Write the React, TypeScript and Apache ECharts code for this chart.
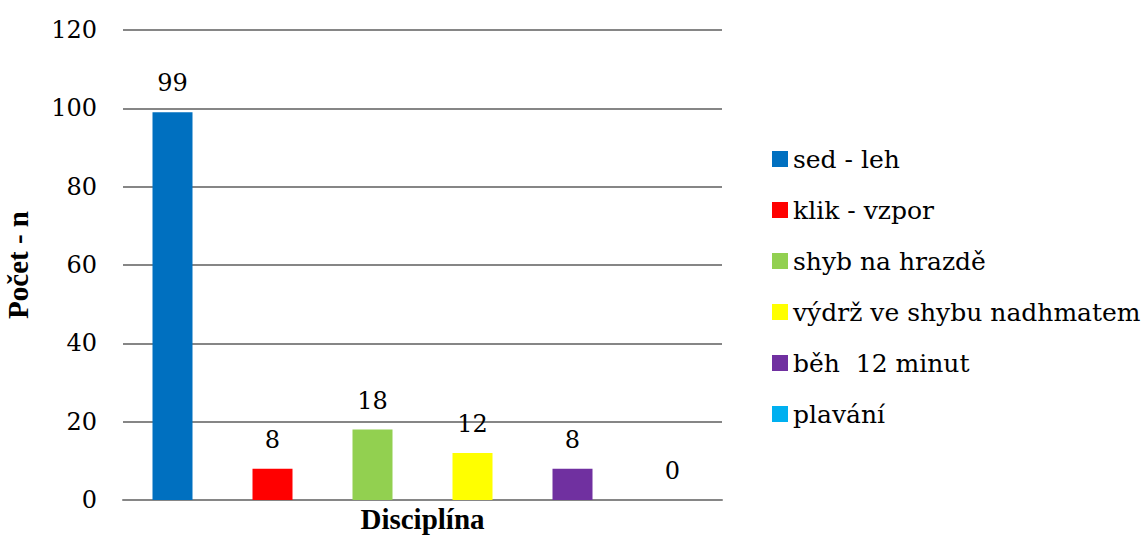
import React, { useEffect, useRef } from "react";
import * as echarts from "echarts";

// Disciplines, their counts and bar colours
const disciplines = [
  "sed - leh",
  "klik - vzpor",
  "shyb na hrazdě",
  "výdrž ve shybu nadhmatem",
  "běh  12 minut",
  "plavání",
];
const counts = [99, 8, 18, 12, 8, 0];
const colors = ["#0070C0", "#FF0000", "#92D050", "#FFFF00", "#7030A0", "#00B0F0"];
const categories = ["Disciplína"];

// Regular text uses DejaVu Serif; bold titles use Liberation Serif Bold
const REGULAR = "'DejaVu Serif', serif";
const BOLD = "'Liberation Serif', 'DejaVu Serif', serif";

export default function App() {
  const ref = useRef<HTMLDivElement>(null);

  useEffect(() => {
    if (!ref.current) return;
    const chart = echarts.init(ref.current, undefined, { renderer: "svg" });
    chart.setOption({
      animation: false,
      backgroundColor: "#ffffff",
      textStyle: { fontFamily: REGULAR },
      grid: {
        left: 123,
        right: 425,
        top: 30,
        bottom: 39,
        containLabel: false,
        outerBoundsMode: "none",
      },
      legend: {
        orient: "vertical",
        left: 767,
        top: 139,
        itemWidth: 16,
        itemHeight: 16,
        itemGap: 21,
        icon: "rect",
        data: disciplines,
        textStyle: { fontFamily: REGULAR, fontSize: 25, color: "#000", lineHeight: 30 },
      },
      xAxis: {
        type: "category",
        data: categories,
        name: categories[0],
        nameLocation: "middle",
        nameGap: 4,
        nameTextStyle: { fontFamily: BOLD, fontSize: 29, fontWeight: "bold", color: "#000" },
        axisLine: { lineStyle: { color: "#868686", width: 2 } },
        axisTick: { show: false },
        axisLabel: { show: false },
      },
      yAxis: {
        type: "value",
        min: 0,
        max: 120,
        interval: 20,
        name: "Počet - n",
        nameLocation: "middle",
        nameGap: 91,
        nameTextStyle: { fontFamily: BOLD, fontSize: 29, fontWeight: "bold", color: "#000" },
        axisLine: { show: false },
        axisTick: { show: false },
        axisLabel: { margin: 26, fontFamily: REGULAR, fontSize: 24, color: "#000" },
        splitLine: { lineStyle: { color: "#868686", width: 2 } },
      },
      series: disciplines.map((name, i) => ({
        name,
        type: "bar",
        barWidth: 40,
        barGap: "150%",
        itemStyle: { color: colors[i] },
        label: {
          show: true,
          position: "top",
          distance: 17,
          fontFamily: REGULAR,
          fontSize: 24,
          color: "#000",
        },
        data: [counts[i]],
      })),
    });
    return () => chart.dispose();
  }, []);

  return (
    <div
      ref={ref}
      style={{ position: "fixed", left: 0, top: 0, width: 1147, height: 539 }}
    />
  );
}
